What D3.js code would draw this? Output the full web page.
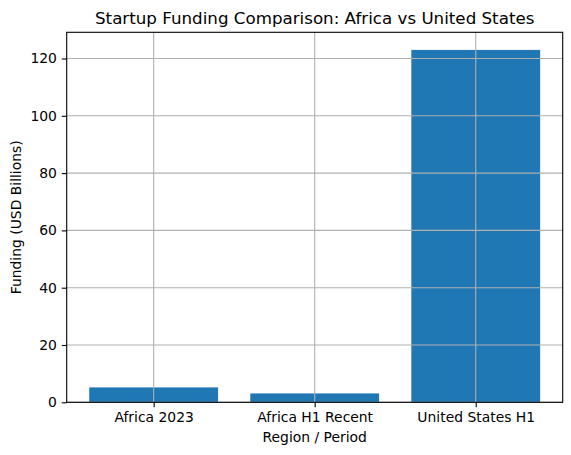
<!DOCTYPE html>
<html>
<head>
<meta charset="utf-8">
<script src="https://cdn.jsdelivr.net/npm/d3@7"></script>
<style>
  body { margin: 0; background: #fff; }
  svg { font-family: "DejaVu Sans", sans-serif; }
  .axis text { font-family: "DejaVu Sans", sans-serif; font-size: 13.9px; fill: #000; }
  .axis path, .axis line { stroke: #000; stroke-width: 1.1; }
  .grid line { stroke: #b0b0b0; stroke-width: 1.1; }
</style>
</head>
<body>
<script>
let categories = ["Africa 2023", "Africa H1 Recent", "United States H1"];
let funding = [5.2, 3.1, 123];
let yTicks = [0, 20, 40, 60, 80, 100, 120];

let width = 571;
let height = 455;
let plotLeft = 66.7, plotRight = 562.7, plotTop = 32.3, plotBottom = 402.3;

let svg = d3.select("body")
    .append("svg")
    .attr("width", width)
    .attr("height", height);

// matplotlib-style linear x with bars of width 0.8
let x = d3.scaleLinear()
    .domain([-0.54, categories.length - 1 + 0.54])
    .range([plotLeft, plotRight]);

let y = d3.scaleLinear()
    .domain([0, d3.max(funding) * 1.05])
    .range([plotBottom, plotTop]);

svg.selectAll(".bar")
    .data(funding)
    .enter()
    .append("rect")
    .attr("class", "bar")
    .attr("x", (d, i) => x(i - 0.4))
    .attr("width", (d, i) => x(i + 0.4) - x(i - 0.4))
    .attr("y", d => y(d))
    .attr("height", d => y(0) - y(d))
    .attr("fill", "#1f77b4");

// grid drawn above the bars
let grid = svg.append("g").attr("class", "grid");
grid.selectAll(".gx")
    .data(categories)
    .enter()
    .append("line")
    .attr("x1", (d, i) => x(i))
    .attr("x2", (d, i) => x(i))
    .attr("y1", plotTop)
    .attr("y2", plotBottom);
grid.selectAll(".gy")
    .data(yTicks)
    .enter()
    .append("line")
    .attr("x1", plotLeft)
    .attr("x2", plotRight)
    .attr("y1", d => y(d))
    .attr("y2", d => y(d));

let xAxis = d3.axisBottom(x)
    .tickValues(d3.range(categories.length))
    .tickFormat(i => categories[i])
    .tickSizeInner(4.9)
    .tickSizeOuter(0)
    .tickPadding(4.9);

let yAxis = d3.axisLeft(y)
    .tickValues(yTicks)
    .tickSizeInner(4.9)
    .tickSizeOuter(0)
    .tickPadding(4.9);

svg.append("g")
    .attr("class", "axis x-axis")
    .attr("transform", "translate(0," + plotBottom + ")")
    .call(xAxis)
    .call(g => g.select(".domain").remove());

svg.append("g")
    .attr("class", "axis y-axis")
    .attr("transform", "translate(" + plotLeft + ",0)")
    .call(yAxis)
    .call(g => g.select(".domain").remove());

// frame
svg.append("rect")
    .attr("x", plotLeft)
    .attr("y", plotTop)
    .attr("width", plotRight - plotLeft)
    .attr("height", plotBottom - plotTop)
    .attr("fill", "none")
    .attr("stroke", "#000")
    .attr("stroke-width", 1.1);

svg.append("text")
    .text("Startup Funding Comparison: Africa vs United States")
    .attr("x", (plotLeft + plotRight) / 2)
    .attr("y", 24)
    .attr("text-anchor", "middle")
    .attr("font-size", "16.7px");

svg.append("text")
    .text("Region / Period")
    .attr("x", (plotLeft + plotRight) / 2)
    .attr("y", 441.5)
    .attr("text-anchor", "middle")
    .attr("font-size", "13.9px");

svg.append("text")
    .text("Funding (USD Billions)")
    .attr("transform", "translate(21," + ((plotTop + plotBottom) / 2) + ") rotate(-90)")
    .attr("text-anchor", "middle")
    .attr("font-size", "13.9px");
</script>
</body>
</html>
